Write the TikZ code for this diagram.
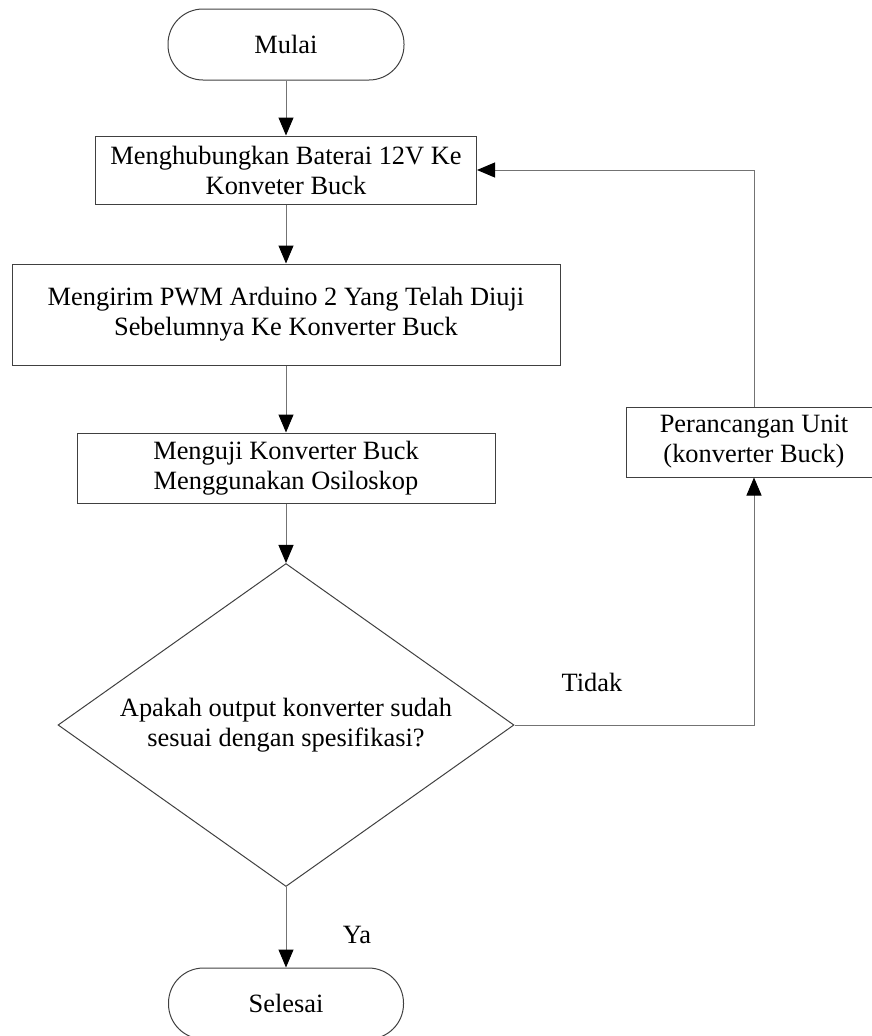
\documentclass[tikz,border=0pt]{standalone}
\usepackage{fontspec}
\setmainfont{Liberation Serif}
\usetikzlibrary{arrows.meta,shapes.geometric}
\tikzset{
  base/.style={draw=black!75, line width=1pt, inner sep=0pt, align=center, font=\fontsize{26.4}{30}\selectfont},
  term/.style={base, rectangle, rounded corners=35pt},
  procbox/.style={base, rectangle},
  decbox/.style={base, diamond, aspect=1.41},
  conn/.style={draw=black!55, line width=1pt, -{Triangle[width=15pt,length=18pt,color=black]}},
  lbl/.style={font=\fontsize{26.4}{30}\selectfont, inner sep=0pt}
}
\begin{document}
\begin{tikzpicture}[x=1pt,y=-1pt]
\useasboundingbox (0,0) rectangle (872,1036);
\node[term, minimum width=236pt, minimum height=71pt] (mulai) at (286,44.5) {Mulai};
\node[procbox, minimum width=381pt, minimum height=68pt] (b1) at (286,170) {Menghubungkan Baterai 12V Ke\\Konveter Buck};
\node[procbox, minimum width=548pt, minimum height=101pt] (b2) at (286,314.5) {Mengirim PWM Arduino 2 Yang Telah Diuji\\Sebelumnya Ke Konverter Buck};
\node[procbox, minimum width=418pt, minimum height=70pt] (b3) at (286,468) {Menguji Konverter Buck\\Menggunakan Osiloskop};
\node[decbox, minimum width=456pt, minimum height=323pt] (dec) at (286,725) {Apakah output konverter sudah\\sesuai dengan spesifikasi?};
\node[procbox, minimum width=256pt, minimum height=70pt] (b4) at (754,442) {Perancangan Unit\\(konverter Buck)};
\node[term, minimum width=235pt, minimum height=71pt] (sel) at (286,1003.5) {Selesai};
\node[lbl] (tidak) at (592,682) {Tidak};
\node[lbl] (ya) at (357,935) {Ya};
\draw[conn] (mulai) -- (b1);
\draw[conn] (b1) -- (b2);
\draw[conn] (b2) -- (b3);
\draw[conn] (b3) -- (dec);
\draw[conn] (dec) -- (sel);
\draw[conn] (dec.east) -| (b4.south);
\draw[conn] (b4.north) |- (b1.east);
\end{tikzpicture}
\end{document}
